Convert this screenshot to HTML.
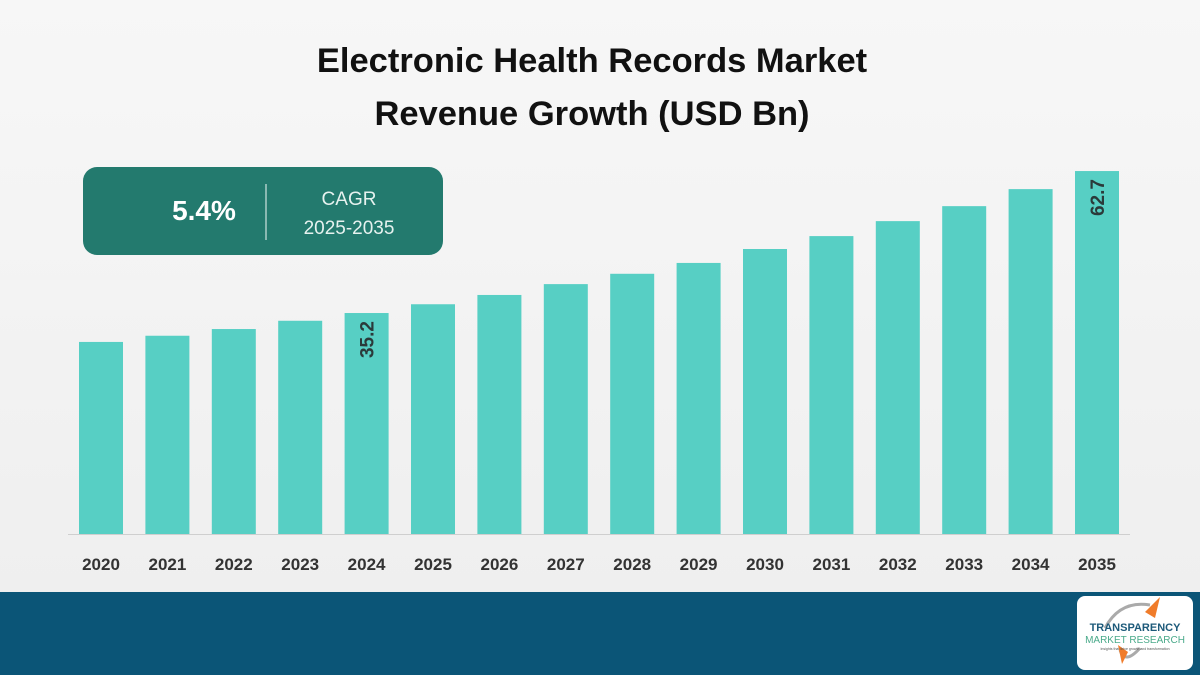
<!DOCTYPE html>
<html><head><meta charset="utf-8"><style>
body{margin:0;width:1200px;height:675px;overflow:hidden;background:#f3f3f3;font-family:"Liberation Sans",sans-serif}
svg{display:block}
</style></head><body>
<svg width="1200" height="675" viewBox="0 0 1200 675">
<defs><linearGradient id="bg" x1="0" y1="0" x2="0" y2="1"><stop offset="0" stop-color="#f7f7f7"/><stop offset="1" stop-color="#efefef"/></linearGradient></defs>
<rect width="1200" height="592" fill="url(#bg)"/>
<text x="592" y="72" text-anchor="middle" font-size="34.5" font-weight="bold" fill="#111">Electronic Health Records Market</text>
<text x="592" y="125" text-anchor="middle" font-size="34.5" font-weight="bold" fill="#111">Revenue Growth (USD Bn)</text>
<g>
<rect x="83" y="167" width="360" height="88" rx="14" fill="#237a6e"/>
<text x="204" y="220" text-anchor="middle" font-size="28" font-weight="bold" fill="#fff">5.4%</text>
<line x1="266" y1="184" x2="266" y2="240" stroke="#cfe3df" stroke-width="1.2"/>
<text x="349" y="205" text-anchor="middle" font-size="19" fill="#e6f2ef">CAGR</text>
<text x="349" y="234" text-anchor="middle" font-size="19" fill="#e6f2ef">2025-2035</text>
</g>
<g id="bars"></g>
<line x1="68" y1="534.5" x2="1130" y2="534.5" stroke="#cfcfcf" stroke-width="1"/>
<rect x="0" y="592" width="1200" height="83" fill="#0b5577"/>
<g>
<rect x="1077" y="596" width="116" height="74" rx="8" fill="#fff"/>
<path d="M1105 628 Q1120 600 1150 605" fill="none" stroke="#aaa" stroke-width="3"/>
<path d="M1145 612 L1160 597 L1155 618 Z" fill="#f07c2a"/>
<path d="M1140 648 Q1125 665 1120 650" fill="none" stroke="#aaa" stroke-width="3"/>
<path d="M1118 645 L1122 664 L1128 652 Z" fill="#f07c2a"/>
<text x="1135" y="631" text-anchor="middle" font-size="11" font-weight="bold" fill="#1d5a7a">TRANSPARENCY</text>
<text x="1135" y="643" text-anchor="middle" font-size="10" fill="#4aaa8a">MARKET RESEARCH</text>
<text x="1135" y="650" text-anchor="middle" font-size="3.5" fill="#555">Insights that drive growth and transformation</text>
</g>
</svg>
<script>
const categories=["2020","2021","2022","2023","2024","2025","2026","2027","2028","2029","2030","2031","2032","2033","2034","2035"];
const values=[29.6,30.8,32.1,33.7,35.2,36.9,38.7,40.8,42.8,44.9,47.6,50.1,53.0,55.9,59.2,62.7];
const labels=["","","","","35.2","","","","","","","","","","","62.7"];
const NS="http://www.w3.org/2000/svg";
const baseY=534, vMin=-7.6, k=5.163;
function yScale(v){return baseY-(v-vMin)*k;}
function xScale(i){return 79+i*66.4;}
const g=document.getElementById('bars');
categories.forEach((c,i)=>{
  const x=xScale(i),w=44,y=yScale(values[i]);
  const r=document.createElementNS(NS,'rect');
  r.setAttribute('x',x);r.setAttribute('y',y);r.setAttribute('width',w);r.setAttribute('height',baseY-y);
  r.setAttribute('fill','#57cfc4');
  
  
  g.appendChild(r);
  const t=document.createElementNS(NS,'text');
  t.setAttribute('x',x+w/2);t.setAttribute('y',570);t.setAttribute('text-anchor','middle');
  t.setAttribute('font-size','17');t.setAttribute('font-weight','bold');t.setAttribute('fill','#333');
  t.textContent=c;
  
  
  g.appendChild(t);
  if(labels[i]){
    const v=document.createElementNS(NS,'text');
    const cx=x+w/2+7, cy=y+8;
    v.setAttribute('transform','translate('+cx+','+cy+') rotate(-90)');
    v.setAttribute('text-anchor','end');v.setAttribute('font-size','19');v.setAttribute('font-weight','bold');v.setAttribute('fill','#2b3a3a');
    v.textContent=labels[i];
    
    
    g.appendChild(v);
  }
});
</script>
</body></html>
